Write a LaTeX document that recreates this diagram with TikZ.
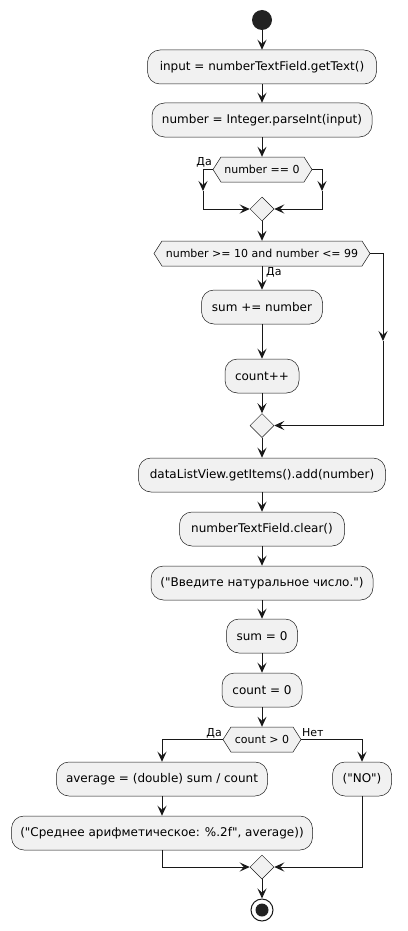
\documentclass[tikz,border=0pt]{standalone}
\usepackage{fontspec}
\setmainfont{DejaVu Sans}[Ligatures=TeXOff]
\usetikzlibrary{arrows.meta,shapes.geometric}
\definecolor{boxfill}{HTML}{F1F1F1}
\definecolor{ink}{HTML}{181818}
\definecolor{dot}{HTML}{222222}
\begin{document}
\begin{tikzpicture}[x=1pt,y=-1pt,
  act/.style={draw=ink, line width=0.5pt, fill=boxfill, rounded corners=12.5pt, minimum height=34pt, inner sep=0pt, font=\fontsize{12}{14}\selectfont},
  hexbody/.style={minimum height=25pt, inner sep=0pt, font=\fontsize{11}{13}\selectfont},
  hexline/.style={draw=ink, line width=0.5pt, fill=boxfill},
  merge/.style={diamond, draw=ink, line width=0.5pt, fill=boxfill, minimum width=24pt, minimum height=24pt, inner sep=0pt},
  flow/.style={draw=ink, line width=1pt, -{Stealth[length=10pt,width=9pt,inset=4pt]}},
  lbl/.style={font=\fontsize{11}{13}\selectfont, inner sep=0pt}
]
\useasboundingbox (0,0) rectangle (407,931);

% start
\node[circle, fill=dot, minimum size=20pt, inner sep=0pt] (start) at (262,20) {};
\node[act, minimum width=229pt] (b1) at (262,67) {input = numberTextField.getText()};
\node[act, minimum width=220pt] (b2) at (262,120) {number = Integer.parseInt(input)};

% hexagon 1
\coordinate (h1w) at (213,169.5);
\coordinate (h1e) at (312,169.5);
\filldraw[hexline] (h1w) -- (221,157) -- (304,157) -- (h1e) -- (304,182) -- (221,182) -- cycle;
\node[hexbody, minimum width=83pt] (h1) at (262,169.5) {number == 0};
\node[merge] (d1) at (262,209) {};
\coordinate (c1l) at (203,191);
\coordinate (c1r) at (322,191);

% hexagon 2
\coordinate (h2w) at (154,253.5);
\coordinate (h2e) at (370,253.5);
\filldraw[hexline] (h2w) -- (162,241) -- (362,241) -- (h2e) -- (362,266) -- (162,266) -- cycle;
\node[hexbody, minimum width=200pt] (h2) at (262,253.5) {number >= 10 and number <= 99};
\node[act, minimum width=121pt] (b3) at (262,307) {sum += number};
\node[act, minimum width=74pt] (b4) at (262,376) {count++};
\node[merge] (d2) at (262,425.5) {};
\coordinate (c2r) at (383,341);

\node[act, minimum width=247pt] (b5) at (262,475) {dataListView.getItems().add(number)};
\node[act, minimum width=165pt] (b6) at (262,529) {numberTextField.clear()};
\node[act, minimum width=222pt] (b7) at (262,583) {("Введите натуральное число.")};
\node[act, minimum width=71pt] (b8) at (262,636) {sum = 0};
\node[act, minimum width=80pt] (b9) at (262,690) {count = 0};

% hexagon 3
\coordinate (h3w) at (223,739.5);
\coordinate (h3e) at (301,739.5);
\filldraw[hexline] (h3w) -- (231,727) -- (293,727) -- (h3e) -- (293,752) -- (231,752) -- cycle;
\node[hexbody, minimum width=62pt] (h3) at (262,739.5) {count > 0};
\node[act, minimum width=211pt] (b10) at (162,779) {average = (double) sum / count};
\node[act, minimum width=59pt] (b11) at (362,779) {("NO")};
\node[act, minimum width=301pt] (b12) at (162,833) {("Среднее арифметическое: \%.2f", average))};
\node[merge] (d3) at (262,867) {};
\node[circle, draw=ink, line width=1pt, fill=white, minimum size=22pt, inner sep=0pt] (stop) at (262,910) {};
\fill[dot] (stop.center) circle (6.5pt);

% connectors
\draw[flow] (start.south) -- (b1.north);
\draw[flow] (b1.south) -- (b2.north);
\draw[flow] (b2.south) -- (h1.north);
\draw[flow] (h1w) -| (c1l);
\draw[flow] (c1l) |- (d1.west);
\draw[flow] (h1e) -| (c1r);
\draw[flow] (c1r) |- (d1.east);
\node[lbl, anchor=base east] at (212,165) {Да};
\draw[flow] (d1.south) -- (h2.north);
\draw[flow] (h2.south) -- (b3.north);
\node[lbl, anchor=base west] at (266,275) {Да};
\draw[flow] (b3.south) -- (b4.north);
\draw[flow] (b4.south) -- (d2.north);
\draw[flow] (h2e) -| (c2r);
\draw[flow] (c2r) |- (d2.east);
\draw[flow] (d2.south) -- (b5.north);
\draw[flow] (b5.south) -- (b6.north);
\draw[flow] (b6.south) -- (b7.north);
\draw[flow] (b7.south) -- (b8.north);
\draw[flow] (b8.south) -- (b9.north);
\draw[flow] (b9.south) -- (h3.north);
\draw[flow] (h3w) -| (b10.north);
\draw[flow] (h3e) -| (b11.north);
\node[lbl, anchor=base east] at (222,736) {Да};
\node[lbl, anchor=base west] at (302,736) {Нет};
\draw[flow] (b10.south) -- (b12.north);
\draw[flow] (b12.south) |- (d3.west);
\draw[flow] (b11.south) |- (d3.east);
\draw[flow] (d3.south) -- (stop.north);
\end{tikzpicture}
\end{document}
